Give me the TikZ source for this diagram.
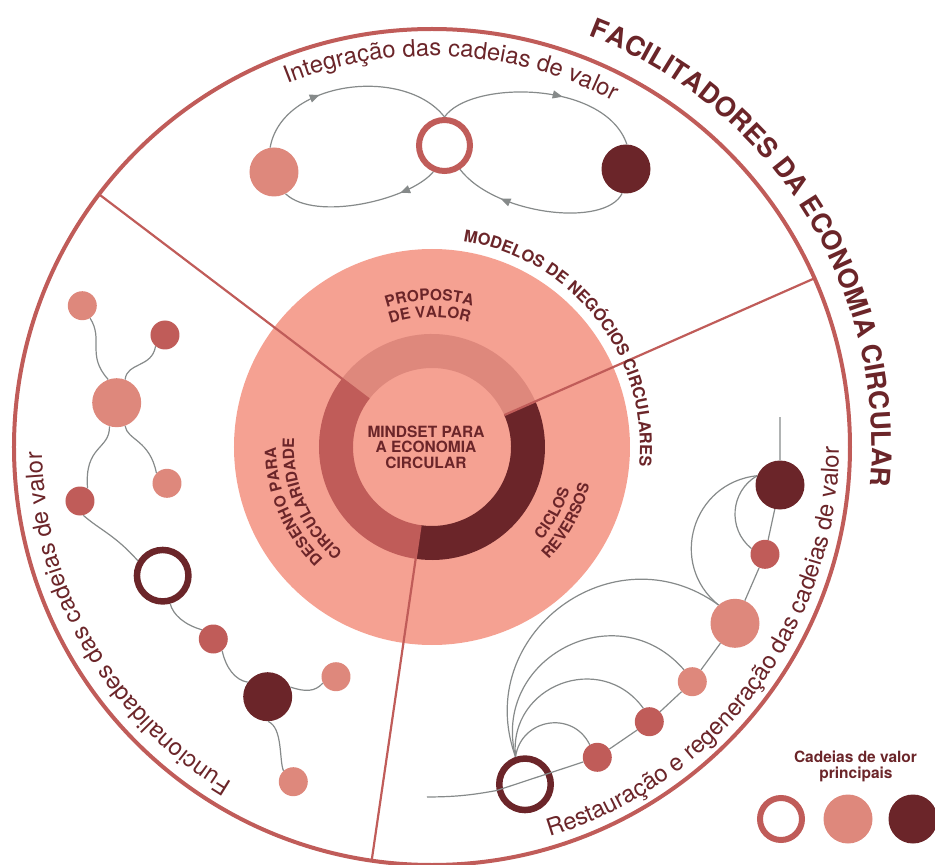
\documentclass[tikz,border=0pt]{standalone}
\usepackage{fontspec}
\setmainfont{TeX Gyre Heros}
\usetikzlibrary{decorations.text,decorations.markings,arrows.meta}
\definecolor{maroon}{RGB}{107,37,41}
\definecolor{redmid}{RGB}{192,92,89}
\definecolor{lightc}{RGB}{222,136,124}
\definecolor{pinkd}{RGB}{245,161,146}
\definecolor{grayc}{RGB}{134,138,138}
\newcommand\arclabel[5]{%
  \path[decorate, decoration={text along path, text align=center, text={|#1|#5}}]
    (#3:#2) arc[start angle=#3, end angle=#4, radius=#2];}
\newcommand\bigfmt{\color{maroon}\fontsize{23.8}{24}\selectfont}
\newcommand\lblfmt{\color{maroon}\bfseries\fontsize{15.5}{15.5}\selectfont}
\tikzset{
  sdot/.style={circle, inner sep=0pt, minimum size=29pt},
  bdot/.style={circle, inner sep=0pt, minimum size=49pt},
  ltn/.style={fill=lightc},
  mdn/.style={fill=redmid},
  dkn/.style={fill=maroon},
  hollowdk/.style={circle, draw=maroon, line width=6.5pt, fill=white, inner sep=0pt, minimum size=51.5pt},
  hollowmd/.style={circle, draw=redmid, line width=6pt, fill=white, inner sep=0pt, minimum size=51pt},
  conn/.style={color=grayc, line width=1.2pt},
  divider/.style={draw=redmid, line width=2.2pt},
  flowarrow/.style={postaction={decorate, decoration={markings, mark=at position #1 with {\arrow{Triangle[length=10pt,width=8pt]}}}}},
  legendfont/.style={text=maroon, font=\bfseries\fontsize{15.5}{16}\selectfont},
}
\begin{document}
\begin{tikzpicture}[x=1pt,y=1pt]
\useasboundingbox (-432,-418) rectangle (503,447);
\clip (-432,-418) rectangle (503,447);

% outer circle and central disc
\draw[redmid, line width=4pt] (0,0) circle[radius=418];
\fill[pinkd] (0,0) circle[radius=198];
\fill[lightc] (142.8:79) arc[start angle=142.8,end angle=23.8,radius=79] -- (23.8:113) arc[start angle=23.8,end angle=142.8,radius=113] -- cycle;
\fill[maroon] (23.8:79) arc[start angle=23.8,end angle=-98.3,radius=79] -- (-98.3:113) arc[start angle=-98.3,end angle=23.8,radius=113] -- cycle;
\fill[redmid] (-98.3:79) arc[start angle=-98.3,end angle=-217.2,radius=79] -- (142.8:113) arc[start angle=142.8,end angle=261.7,radius=113] -- cycle;
\draw[divider] (142.8:79) -- (142.8:418);
\draw[divider] (23.8:79) -- (23.8:418);
\draw[divider] (-98.3:79) -- (-98.3:418);

% top diagram
\node[bdot, ltn] (tl) at (-158,275) {};
\node[hollowmd] (tc) at (12.5,301.5) {};
\node[bdot, dkn] (tr) at (194,278) {};
\draw[conn, flowarrow=0.36] (tl.99) .. controls (-150,367) and (-27,381) .. (tc.90);
\draw[conn, flowarrow=0.25] (tc.-113.5) .. controls (-22,247) and (-117,225) .. (tl.-62);
\draw[conn, flowarrow=0.6] (tc.90) .. controls (38,367) and (173,367) .. (tr.88);
\draw[conn, flowarrow=0.72] (tr.-99.5) .. controls (173,219) and (63,232) .. (tc.-57.7);

% left diagram
\node[sdot, ltn] (f1) at (-349.7,141.3) {};
\node[sdot, mdn] (f2) at (-267,112) {};
\node[bdot, ltn] (f3) at (-315.3,44.3) {};
\node[sdot, ltn] (f4) at (-265,-36.3) {};
\node[sdot, mdn] (f5) at (-352,-54) {};
\node[hollowdk] (f6) at (-269.3,-128.7) {};
\node[sdot, mdn] (f7) at (-218.7,-192) {};
\node[bdot, dkn] (f8) at (-164.3,-249.7) {};
\node[sdot, ltn] (f9) at (-96,-229.7) {};
\node[sdot, ltn] (f10) at (-138.7,-334.7) {};
\draw[conn] (f1.-58) .. controls (-328,107) and (-346,92) .. (f3.110);
\draw[conn] (f2.-130) .. controls (-280,79) and (-305,85) .. (f3.70);
\draw[conn] (f3.-70) .. controls (-305,7) and (-282,7) .. (f4.136);
\draw[conn] (f3.-107) .. controls (-322,-3) and (-348,2) .. (f5.59);
\draw[conn] (f5.-77) .. controls (-332,-83) and (-317,-88) .. (f6.149);
\draw[conn] (f6.-75) .. controls (-259,-168) and (-247,-178) .. (f7.141);
\draw[conn] (f7.-53) .. controls (-206,-221) and (-197,-233) .. (f8.144);
\draw[conn] (f8.23) .. controls (-127,-245) and (-117,-245) .. (f9.-154);
\draw[conn] (f8.-89) .. controls (-149,-281) and (-153,-313) .. (f10.132);

% bottom-right diagram
\coordinate (r0) at (-5,-350);
\node[hollowdk] (r1) at (93,-337.3) {};
\node[sdot, mdn] (r2) at (165.3,-310.3) {};
\node[sdot, mdn] (r3) at (217.3,-274.7) {};
\node[sdot, ltn] (r4) at (260.3,-234.7) {};
\node[bdot, ltn] (r5) at (303,-176.3) {};
\node[sdot, mdn] (r6) at (333,-107.3) {};
\node[bdot, dkn] (r7) at (348,-38) {};
\coordinate (r8) at (348,30);
\draw[conn] (r0) to[bend right=5] (r1) -- (r2) -- (r3) -- (r4) -- (r5) -- (r6) -- (r7) -- (r8);
\draw[conn] (r1.109) to[out=82, in=116, looseness=1.32] (r2.121);
\draw[conn] (r1.109) to[out=96, in=126, looseness=1.35] (r3.114);
\draw[conn] (r1.109) to[out=104, in=131, looseness=1.38] (r4.125);
\draw[conn] (r1.109) to[out=110, in=144, looseness=1.31] (r5.132);
\draw[conn] (r5.132) to[out=141, in=186, looseness=1.24] (r7.158);
\draw[conn] (r6.157) to[out=141, in=210, looseness=1.09] (r7.158);

% legend
\node[legendfont, anchor=base] (leg1) at (423.5,-315) {Cadeias de valor};
\node[legendfont, anchor=base] (leg2) at (424,-331) {principais};
\node[hollowmd, minimum size=42pt] (lg1) at (349,-372) {};
\node[bdot, ltn] (lg2) at (416,-372) {};
\node[bdot, dkn] (lg3) at (481,-372) {};

% texts
\arclabel{\color{maroon}\bfseries\fontsize{27}{27}\selectfont}{440}{82}{-18}{FACILITADORES DA ECONOMIA CIRCULAR}
\arclabel{\color{maroon}\bfseries\fontsize{16.4}{16.4}\selectfont}{208}{100}{-24}{MODELOS DE NEGÓCIOS CIRCULARES}
\arclabel{\bigfmt}{391}{140}{34}{Integração das cadeias de valor}
\arclabel{\bigfmt}{390}{262}{158}{Funcionalidades das cadeias de valor}
\arclabel{\bigfmt}{407}{-92}{18.8}{Restauração e regeneração das cadeias de valor}
\arclabel{\lblfmt}{146.5}{131}{51}{PROPOSTA}
\arclabel{\lblfmt}{129.8}{131}{51}{DE VALOR}
\arclabel{\lblfmt}{156}{253}{153}{DESENHO PARA}
\arclabel{\lblfmt}{138}{253}{153}{CIRCULARIDADE}
\arclabel{\lblfmt}{144}{-78.7}{21.3}{CICLOS}
\arclabel{\lblfmt}{162}{-78.7}{21.3}{REVERSOS}
\node[text=maroon, font=\bfseries\fontsize{15.5}{15.5}\selectfont, align=center] (mindset) at (-6,-0.3) {MINDSET PARA\\A ECONOMIA\\CIRCULAR};
\end{tikzpicture}
\end{document}
